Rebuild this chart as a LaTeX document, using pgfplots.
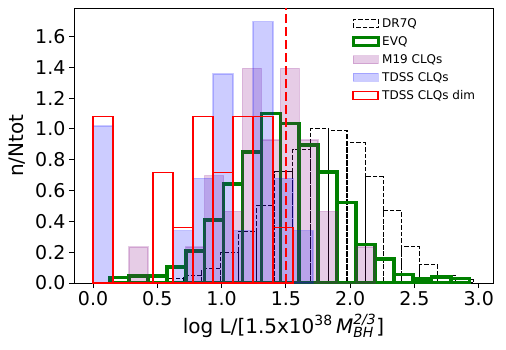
\documentclass[border=0pt]{standalone}
\usepackage{fontspec}
\setmainfont{DejaVu Sans}
\usepackage{pgfplots}
\pgfplotsset{compat=1.18}

\definecolor{mplblue}{RGB}{0,0,255}
\definecolor{mplpurple}{RGB}{128,0,128}
\definecolor{mplgreen}{RGB}{0,128,0}
\definecolor{mplred}{RGB}{255,0,0}

\newcommand{\smallit}[1]{\mbox{\fontsize{14}{14}\selectfont\itshape #1}}
\newcommand{\smallup}[1]{\mbox{\fontsize{14}{14}\selectfont #1}}

% bars between bin edges, legend patch as a small rectangle in the given style
\pgfplotsset{
  histbar/.style={ybar interval,
    legend image code/.code={\draw[#1] (0pt,-4pt) rectangle (25pt,4pt);}},
}

\begin{document}
\begin{tikzpicture}
\begin{axis}[
  scale only axis, width=419pt, height=274.7pt,
  xmin=-0.148, xmax=3.111, ymin=0, ymax=1.782,
  xtick={0,0.5,1,1.5,2,2.5,3},
  ytick={0,0.2,0.4,0.6,0.8,1.0,1.2,1.4,1.6},
  xtick pos=bottom, ytick pos=left, tick align=outside,
  major tick length=5pt,
  every tick/.style={black, line width=0.8pt},
  axis line style={line width=0.8pt},
  /pgf/number format/.cd, fixed, fixed zerofill, precision=1, assume math mode=true,
  /pgfplots/.cd,
  tick label style={font=\fontsize{19}{22}\selectfont},
  xlabel={log L/[1.5x10$^{\smallup{38}}$\,\textit{M}$^{\smallit{2/3}}_{\smallit{BH}}$]},
  ylabel={n/Ntot},
  every axis x label/.style={at={(axis description cs:0.5,-0.182)}, anchor=base,
    font=\fontsize{20}{24}\selectfont},
  every axis y label/.style={at={(axis description cs:-0.135,0.5)}, rotate=90, anchor=center,
    font=\fontsize{20}{24}\selectfont},
  legend style={draw=none, fill=none, at={(0.655,0.978)}, anchor=north west,
    font=\fontsize{12}{14}\selectfont, row sep=3.5pt},
  legend cell align=left,
]
% DR7Q
\addplot[histbar={color=black, line width=1.1pt, dash pattern=on 4.5pt off 2pt, fill=none},
  draw=black, line width=1.1pt, dash pattern=on 4.5pt off 2pt, fill=none] coordinates {
  (0.282,0.004) (0.423,0.01) (0.564,0.028) (0.706,0.05) (0.847,0.093)
  (0.988,0.2) (1.129,0.336) (1.270,0.505) (1.411,0.721) (1.552,0.866)
  (1.693,1.003) (1.834,0.987) (1.975,0.909) (2.116,0.688) (2.257,0.468)
  (2.398,0.234) (2.539,0.119) (2.680,0.05) (2.821,0.02) (2.962,0)
};
\addlegendentry{DR7Q}
% EVQ
\addplot[histbar={color=mplgreen, line width=3.6pt, fill=none},
  draw=mplgreen, line width=3.6pt, fill=none] coordinates {
  (0.132,0.035) (0.279,0.045) (0.426,0.045) (0.574,0.104) (0.721,0.206)
  (0.868,0.407) (1.015,0.641) (1.162,0.851) (1.310,1.10) (1.457,1.035)
  (1.604,0.894) (1.751,0.721) (1.898,0.522) (2.046,0.25) (2.193,0.155)
  (2.340,0.056) (2.487,0.026) (2.634,0.039) (2.782,0.03) (2.929,0)
};
\addlegendentry{EVQ}
% M19 CLQs
\addplot[histbar={color=mplpurple, fill opacity=0.2, draw opacity=0.2, line width=1.5pt},
  fill=mplpurple, fill opacity=0.2, draw=mplpurple, draw opacity=0.2, line width=1.5pt] coordinates {
  (0.279,0.232) (0.426,0) (0.574,0) (0.721,0.232) (0.868,0.696)
  (1.015,0.464) (1.162,1.392) (1.310,0.928) (1.457,1.392) (1.604,0.928)
  (1.751,0.464) (1.898,0) (2.046,0.232) (2.193,0)
};
\addlegendentry{M19 CLQs}
% TDSS CLQs
\addplot[histbar={color=mplblue, fill opacity=0.2, draw opacity=0.2, line width=1.5pt},
  fill=mplblue, fill opacity=0.2, draw=mplblue, draw opacity=0.2, line width=1.5pt] coordinates {
  (0,1.017) (0.1556,0) (0.3111,0) (0.4667,0) (0.6222,0.339) (0.7778,0.678)
  (0.9333,1.356) (1.0889,0.339) (1.2444,1.695) (1.4,0.678) (1.5556,0.339) (1.7111,0)
};
\addlegendentry{TDSS CLQs}
% TDSS CLQs dim (legend patch as a filled red frame)
\addplot[ybar interval, draw=mplred, line width=1.1pt, fill=none,
  legend image code/.code={\fill[mplred, even odd rule]
    (-0.4pt,-4.4pt) rectangle (25.4pt,4.4pt) (0.4pt,-3.6pt) rectangle (24.6pt,3.6pt);}]
  coordinates {
  (0,1.078) (0.1556,0) (0.3111,0) (0.4667,0.718) (0.6222,0.359) (0.7778,1.078)
  (0.9333,0.718) (1.0889,1.078) (1.2444,1.078) (1.4,0.359) (1.5556,0)
};
\addlegendentry{TDSS CLQs dim}
\addplot[forget plot, draw=mplred, line width=2pt, dash pattern=on 9pt off 4pt] coordinates {(1.5,0) (1.5,1.782)};
\end{axis}
\path (current axis.south west) ++(-74pt,-66pt) rectangle ++(506pt,349pt);
\end{tikzpicture}
\end{document}
